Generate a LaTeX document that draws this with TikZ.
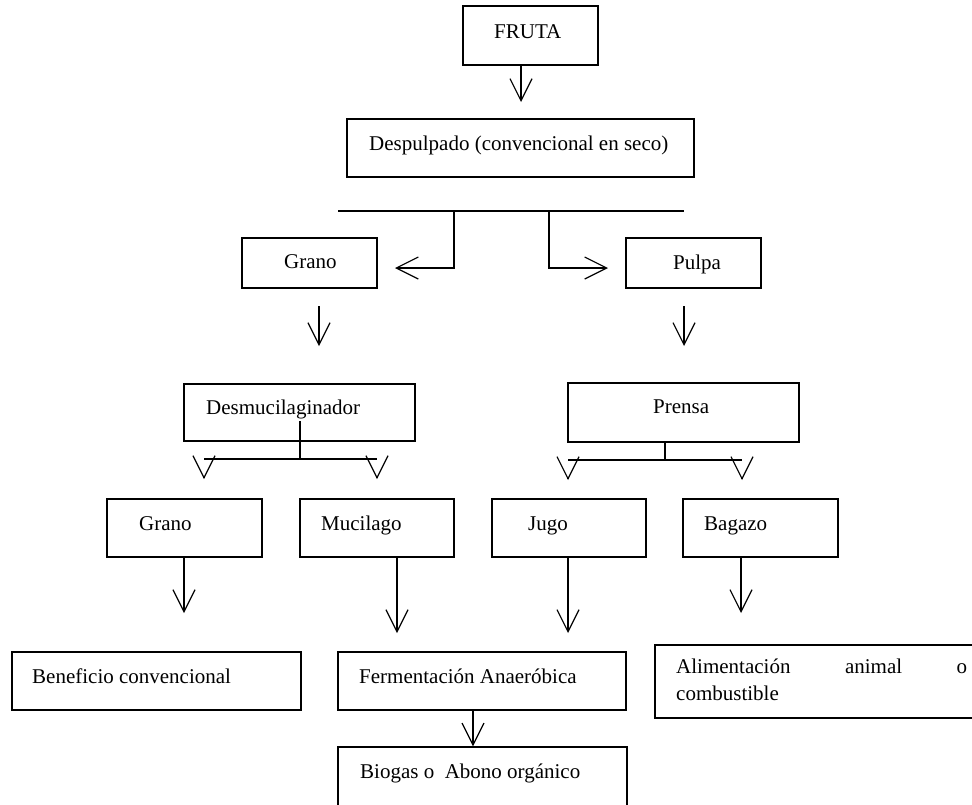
\documentclass[tikz,border=0pt]{standalone}
\usepackage{fontspec}
\setmainfont{Liberation Serif}
\usetikzlibrary{arrows.meta}
\begin{document}
\begin{tikzpicture}[x=1pt,y=-1pt,
  box/.style={draw, line width=1.3pt, rectangle, inner sep=0pt},
  txt/.style={inner sep=0pt, anchor=base west, font=\fontsize{21}{27}\selectfont},
  ln/.style={line width=1.2pt},
  arr/.style={line width=1.2pt, -{Straight Barb[length=22pt,width=22pt]}}]
\useasboundingbox (0,0) rectangle (972,804);
\clip (0,0) rectangle (972,804);
\fill[white] (0,0) rectangle (972,804);

% boxes
\node[box, minimum width=135pt, minimum height=59pt] (fruta)  at (530.5,35.5) {};
\node[box, minimum width=347pt, minimum height=58pt] (desp)   at (520.5,148) {};
\node[box, minimum width=135pt, minimum height=50pt] (grano1) at (309.5,263) {};
\node[box, minimum width=135pt, minimum height=50pt] (pulpa)  at (693.5,263) {};
\node[box, minimum width=231pt, minimum height=57pt] (desmuc) at (299.5,412.5) {};
\node[box, minimum width=231pt, minimum height=59pt] (prensa) at (683.5,412.5) {};
\node[box, minimum width=155pt, minimum height=58pt] (grano2) at (184.5,528) {};
\node[box, minimum width=154pt, minimum height=58pt] (mucil)  at (377,528) {};
\node[box, minimum width=154pt, minimum height=58pt] (jugo)   at (569,528) {};
\node[box, minimum width=155pt, minimum height=58pt] (bagazo) at (760.5,528) {};
\node[box, minimum width=289pt, minimum height=58pt] (benef)  at (156.5,681) {};
\node[box, minimum width=288pt, minimum height=58pt] (ferm)   at (482,681) {};
\node[box, minimum width=345pt, minimum height=73pt] (alim)   at (827.5,681.5) {};
\node[box, minimum width=289pt, minimum height=83pt] (biogas) at (482.5,788.5) {};

% texts
\node[txt] (tfruta)  at (494,38)  {FRUTA};
\node[txt] (tdesp)   at (369,150) {Despulpado (convencional en seco)};
\node[txt] (tgrano1) at (284,268) {Grano};
\node[txt] (tpulpa)  at (673,269) {Pulpa};
\node[txt] (tdesmuc) at (206,414) {Desmucilaginador};
\node[txt] (tprensa) at (653,413) {Prensa};
\node[txt] (tgrano2) at (139,530) {Grano};
\node[txt] (tmucil)  at (321,530) {Mucilago};
\node[txt] (tjugo)   at (528,530) {Jugo};
\node[txt] (tbagazo) at (704,530) {Bagazo};
\node[txt] (tbenef)  at (32,683)  {Beneficio convencional};
\node[txt] (tferm)   at (359,683) {Fermentación Anaeróbica};
\node[txt] (tbiogas) at (360,778) {Biogas o\ \ Abono orgánico};
\node[txt, align=left] (talim) at (676,700) {\makebox[291pt][s]{Alimentación animal o}\\combustible};

% coordinates
\coordinate (a1) at (521,102);
\coordinate (barL) at (338,211);
\coordinate (barR) at (684,211);
\coordinate (bl) at (454,211);
\coordinate (blt) at (395,268);
\coordinate (br) at (549,211);
\coordinate (brt) at (608,268);
\coordinate (g1s) at (319,306);
\coordinate (g1t) at (319,346);
\coordinate (p1s) at (684,306);
\coordinate (p1t) at (684,346);
\coordinate (dmv) at (300,421);
\coordinate (dmL) at (204,459);
\coordinate (dmR) at (377,459);
\coordinate (dmLt) at (204,479);
\coordinate (dmRt) at (377,479);
\coordinate (prv) at (665,460);
\coordinate (prL) at (568,460);
\coordinate (prR) at (742,460);
\coordinate (prLt) at (568,480);
\coordinate (prRt) at (742,480);
\coordinate (g2t) at (184,613);
\coordinate (mut) at (397,633);
\coordinate (jut) at (568,633);
\coordinate (bat) at (741,613);
\coordinate (fx) at (473,0);

% connectors
\draw[arr] (a1 |- fruta.south) -- (a1);
\draw[ln] (barL) -- (barR);
\draw[arr] (bl) |- (blt);
\draw[arr] (br) |- (brt);
\draw[arr] (g1s) -- (g1t);
\draw[arr] (p1s) -- (p1t);
\draw[ln] (dmv) -- (dmv |- dmL);
\draw[ln] (dmL) -- (dmR);
\draw[arr] ([yshift=1pt]dmLt) -- (dmLt);
\draw[arr] ([yshift=1pt]dmRt) -- (dmRt);
\draw[ln] (prv |- prensa.south) -- (prv);
\draw[ln] (prL) -- (prR);
\draw[arr] ([yshift=1pt]prLt) -- (prLt);
\draw[arr] ([yshift=1pt]prRt) -- (prRt);
\draw[arr] (g2t |- grano2.south) -- (g2t);
\draw[arr] (mut |- mucil.south) -- (mut);
\draw[arr] (jut |- jugo.south) -- (jut);
\draw[arr] (bat |- bagazo.south) -- (bat);
\draw[arr] (fx |- ferm.south) -- (fx |- biogas.north);
\end{tikzpicture}
\end{document}
